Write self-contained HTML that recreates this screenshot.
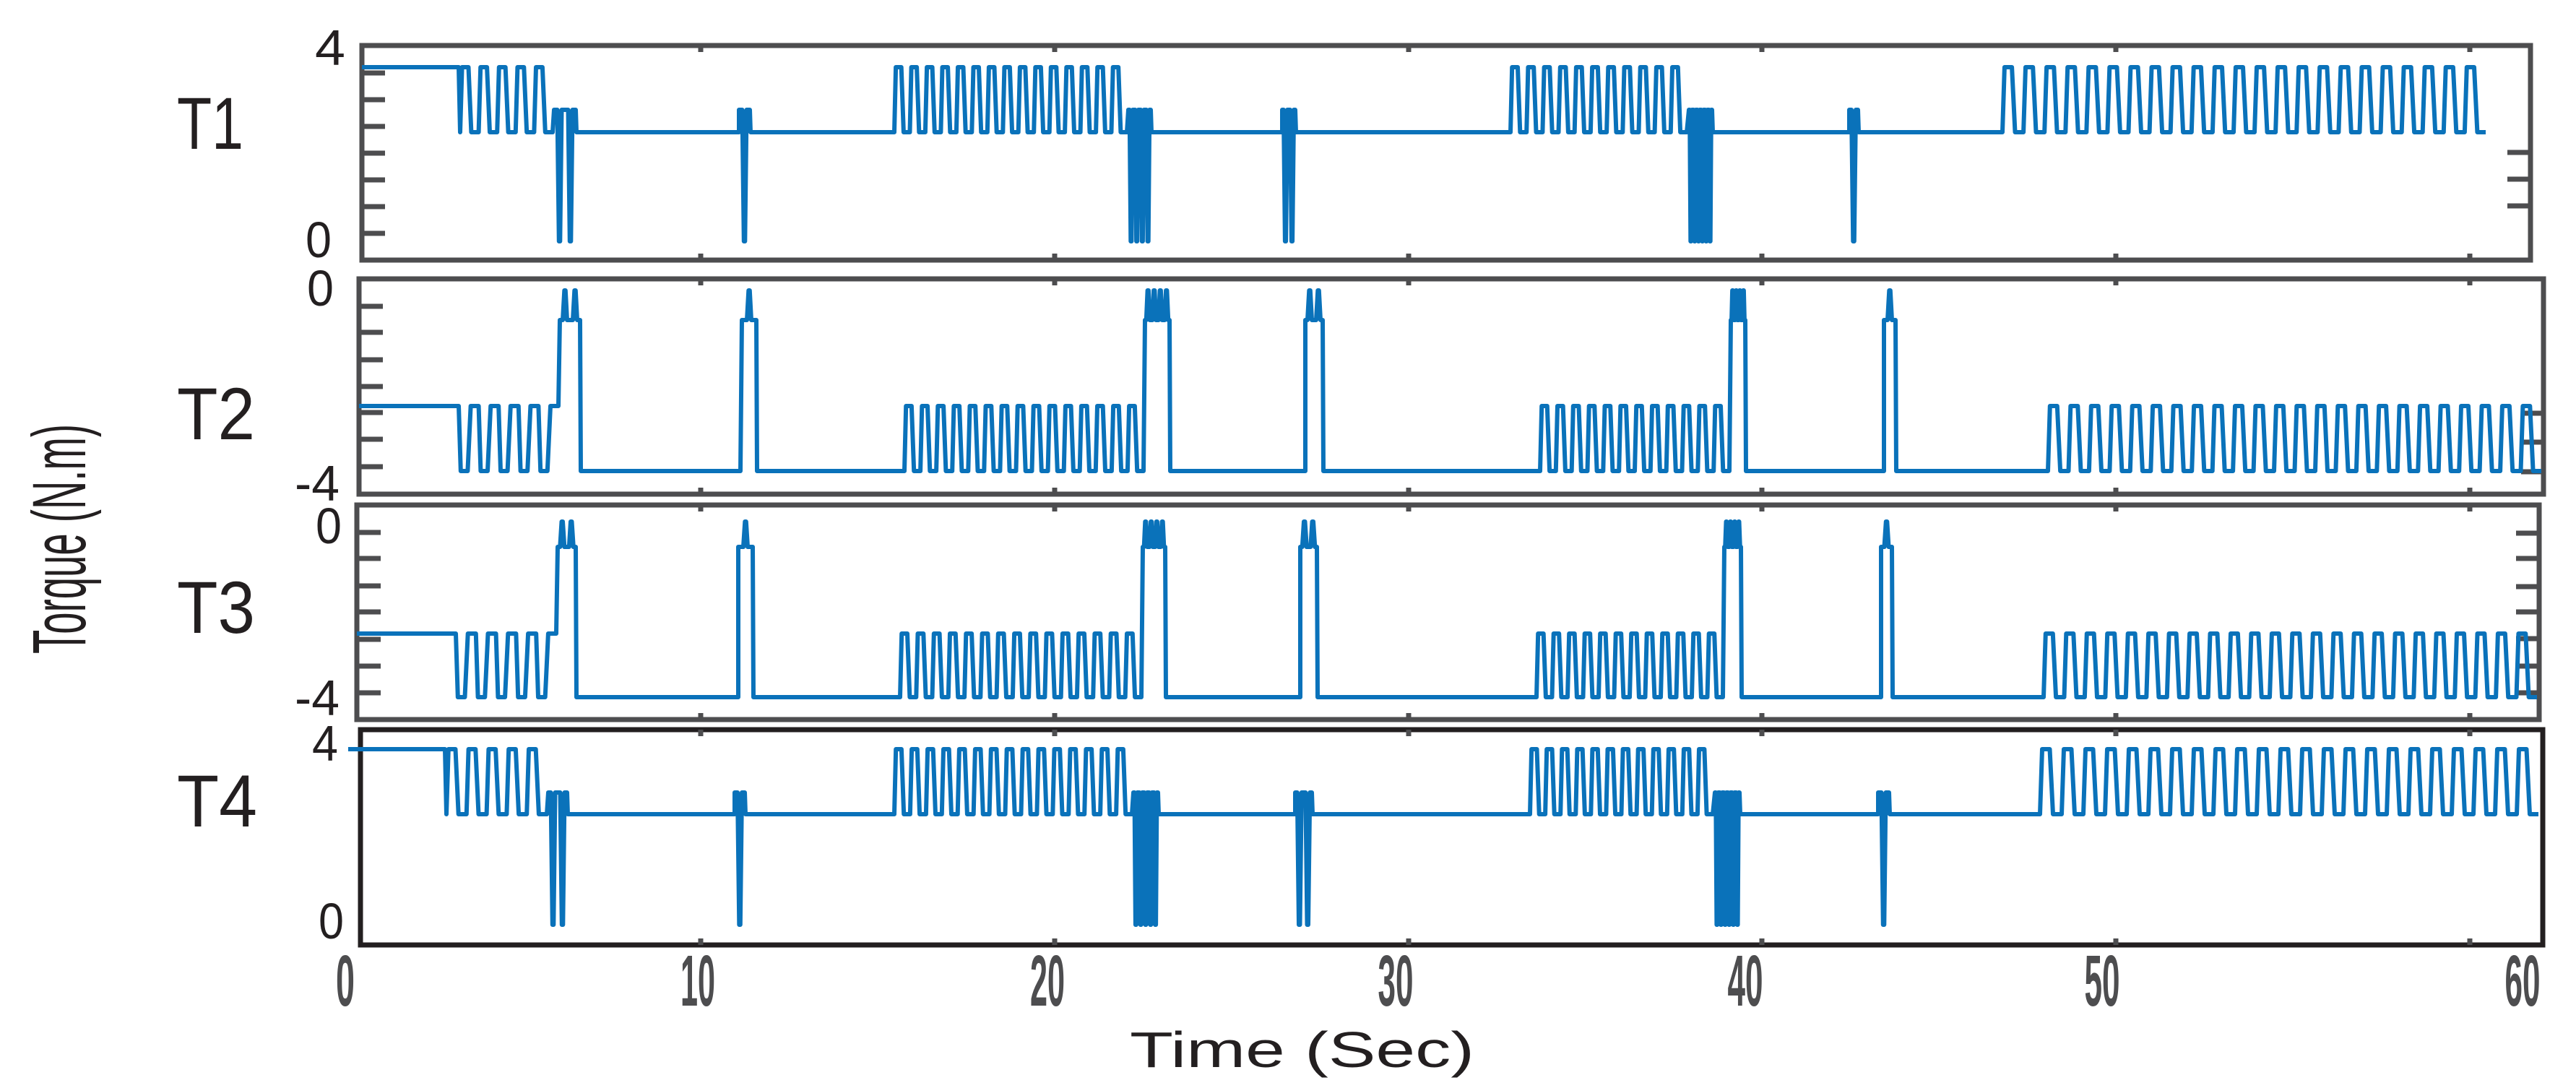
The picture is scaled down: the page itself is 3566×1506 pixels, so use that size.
<!DOCTYPE html>
<html><head><meta charset="utf-8"><style>html,body{margin:0;padding:0;background:#fff}svg{display:block}</style></head>
<body>
<svg id="s" width="3566" height="1506" viewBox="0 0 3566 1506" xmlns="http://www.w3.org/2000/svg">
<rect width="3566" height="1506" fill="#fff"/>
<g fill="none" stroke-width="7">
<rect x="501" y="63" width="3002" height="297" stroke="#4d4d4f"/>
<rect x="497" y="386" width="3024" height="298" stroke="#4d4d4f"/>
<rect x="494" y="699" width="3021" height="297" stroke="#4d4d4f"/>
<rect x="499" y="1010" width="3021" height="298" stroke="#231f20"/>
</g>
<g id="ticks" stroke="#4d4d4f" stroke-width="7"></g>
<g id="lines" fill="none" stroke="#0a72ba" stroke-width="6" stroke-linejoin="round"></g>
<g font-family="Liberation Sans, sans-serif" fill="#231f20">
<text x="245" y="206" font-size="102" textLength="92" lengthAdjust="spacingAndGlyphs">T1</text>
<text x="245" y="608" font-size="102" textLength="108" lengthAdjust="spacingAndGlyphs">T2</text>
<text x="245" y="876" font-size="102" textLength="108" lengthAdjust="spacingAndGlyphs">T3</text>
<text x="245" y="1144" font-size="102" textLength="111" lengthAdjust="spacingAndGlyphs">T4</text>
<text x="436" y="90" font-size="70" textLength="42" lengthAdjust="spacingAndGlyphs">4</text>
<text x="423" y="356" font-size="70" textLength="36" lengthAdjust="spacingAndGlyphs">0</text>
<text x="425" y="423" font-size="70" textLength="37" lengthAdjust="spacingAndGlyphs">0</text>
<text x="408" y="693" font-size="70" textLength="62" lengthAdjust="spacingAndGlyphs">-4</text>
<text x="437" y="752" font-size="70" textLength="36" lengthAdjust="spacingAndGlyphs">0</text>
<text x="408" y="990" font-size="70" textLength="62" lengthAdjust="spacingAndGlyphs">-4</text>
<text x="432" y="1053" font-size="70" textLength="36" lengthAdjust="spacingAndGlyphs">4</text>
<text x="441" y="1299" font-size="70" textLength="35" lengthAdjust="spacingAndGlyphs">0</text>
<text x="1564" y="1477" font-size="70" textLength="477" lengthAdjust="spacingAndGlyphs">Time (Sec)</text>
<text transform="translate(118,905) rotate(-90)" x="0" y="0" font-size="105" textLength="318" lengthAdjust="spacingAndGlyphs">Torque (N.m)</text>
</g>
<g font-family="Liberation Sans, sans-serif" font-weight="bold" fill="#4d4d4f" font-size="100" text-anchor="middle">
<text x="478" y="1392" textLength="26" lengthAdjust="spacingAndGlyphs">0</text>
<text x="966" y="1392" textLength="48" lengthAdjust="spacingAndGlyphs">10</text>
<text x="1450" y="1392" textLength="48" lengthAdjust="spacingAndGlyphs">20</text>
<text x="1932" y="1392" textLength="49" lengthAdjust="spacingAndGlyphs">30</text>
<text x="2416" y="1392" textLength="49" lengthAdjust="spacingAndGlyphs">40</text>
<text x="2910" y="1392" textLength="49" lengthAdjust="spacingAndGlyphs">50</text>
<text x="3492" y="1392" textLength="49" lengthAdjust="spacingAndGlyphs">60</text>
</g>
</svg>
<script>
(function(){
var NS='http://www.w3.org/2000/svg';
function el(parent,tag,attrs){var e=document.createElementNS(NS,tag);for(var k in attrs)e.setAttribute(k,attrs[k]);parent.appendChild(e);return e;}
var tg=document.getElementById('ticks');
var td='';
function hl(x1,x2,y){td+='M'+x1+' '+y+'H'+x2;}
function vl(x,y1,y2){td+='M'+x+' '+y1+'V'+y2;}
[101,138,175,212,249,286,323].forEach(function(y){hl(501,533,y);});
[211,248,285].forEach(function(y){hl(3471,3503,y);});
[424,460,498,535,571,608,646].forEach(function(y){hl(497,530,y);});
[572,612,653].forEach(function(y){hl(3490,3521,y);});
[737,773,811,847,885,922,959].forEach(function(y){hl(494,527,y);});
[738,773,812,847,884,922,959].forEach(function(y){hl(3483,3515,y);});
var boxes=[[63,360],[386,684],[699,996],[1010,1308]];
[970,1460,1950,2439,2929,3419].forEach(function(x){boxes.forEach(function(b){vl(x,b[0],b[0]+9);vl(x,b[1]-9,b[1]);});});
el(tg,'path',{d:td});

var lg=document.getElementById('lines');
function Path(x,y){this.d='M'+x+' '+y;this.y=y;}
Path.prototype.L=function(x,y){this.d+='L'+x.toFixed(1)+' '+y.toFixed(1);this.y=y;return this;};
Path.prototype.osc=function(x0,x1,P,a,b){
  var n=Math.max(1,Math.round((x1-x0)/P));P=(x1-x0)/n;
  this.L(x0,a);
  for(var i=0;i<n;i++){var x=x0+i*P;
    this.L(x+0.1*P,b);this.L(x+0.45*P,b);this.L(x+0.6*P,a);this.L(x+P,a);}
  return this;};
Path.prototype.burst=function(x0,x1,plat,ext,n,end){
  this.L(x0,plat);var st=(x1-x0)/n;var w=Math.min(3,st/3.5);
  for(var i=0;i<n;i++){var xs=x0+(i+0.5)*st;
    this.L(xs-w,plat);this.L(xs-w/4,ext);this.L(xs+w/4,ext);this.L(xs+w,plat);}
  this.L(x1,plat);this.L(x1+1,end);return this;};
function draw(p){el(lg,'path',{d:p.d});}

// T1
var hi=93,lo=183,pl=152,ex=334;
var p=new Path(501,hi);
p.L(635,hi).L(637,lo).osc(637,765,26,lo,hi).burst(767,797,pl,ex,2,lo)
 .L(1023,lo).burst(1023,1038,pl,ex,1,lo).L(1238,lo).osc(1238,1560,21.5,lo,hi)
 .burst(1562,1593,pl,ex,4,lo).L(1775,lo).burst(1775,1793,pl,ex,2,lo)
 .L(2091,lo).osc(2091,2335,22,lo,hi).burst(2338,2370,pl,ex,6,lo)
 .L(2560,lo).burst(2560,2572,pl,ex,1,lo).L(2772,lo).osc(2772,3441,29.5,lo,hi);
draw(p);
// T2
hi=562;lo=652;pl=443;ex=402;
p=new Path(497,hi);
p.L(635,hi).osc(635,773,26,hi,lo).burst(775,803,pl,ex,2,lo)
 .L(1025,lo).burst(1027,1047,pl,ex,1,lo).L(1252,lo).osc(1252,1583,22,lo,hi)
 .burst(1585,1619,pl,ex,4,lo).L(1807,lo).burst(1807,1831,pl,ex,2,lo)
 .L(2132,lo).osc(2132,2394,22,lo,hi).burst(2396,2416,pl,ex,4,lo)
 .L(2608,lo).burst(2608,2624,pl,ex,1,lo).L(2835,lo).osc(2835,3518,28.5,lo,hi);
draw(p);
// T3
hi=877;lo=965;pl=757;ex=722;
p=new Path(494,hi);
p.L(631,hi).osc(631,770,26,hi,lo).burst(772,797,pl,ex,2,lo)
 .L(1022,lo).burst(1022,1042,pl,ex,1,lo).L(1246,lo).osc(1246,1580,22,lo,hi)
 .burst(1582,1613,pl,ex,4,lo).L(1800,lo).burst(1800,1823,pl,ex,2,lo)
 .L(2127,lo).osc(2127,2385,22,lo,hi).burst(2387,2410,pl,ex,4,lo)
 .L(2604,lo).burst(2604,2619,pl,ex,1,lo).L(2829,lo).osc(2829,3512,28.5,lo,hi);
draw(p);
// T4
hi=1037;lo=1127;pl=1097;ex=1280;
p=new Path(482,hi);
p.L(616,hi).L(618,lo).osc(618,757,26,lo,hi).burst(759,785,pl,ex,2,lo)
 .L(1017,lo).burst(1017,1031,pl,ex,1,lo).L(1238,lo).osc(1238,1567,22,lo,hi)
 .burst(1569,1603,pl,ex,5,lo).L(1793,lo).burst(1793,1816,pl,ex,2,lo)
 .L(2118,lo).osc(2118,2371,22,lo,hi).burst(2374,2408,pl,ex,6,lo)
 .L(2600,lo).burst(2600,2615,pl,ex,1,lo).L(2824,lo).osc(2824,3514,29.5,lo,hi);
draw(p);
})();
</script>
</body></html>
